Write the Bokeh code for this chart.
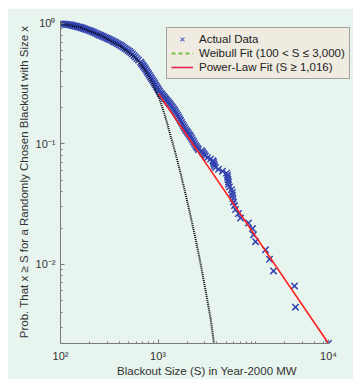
from bokeh.plotting import figure
from bokeh.models import FixedTicker, Legend, LegendItem, Range1d
from bokeh.embed import file_html
from bokeh.resources import INLINE

# ---------------- data ----------------
# Actual data: complementary cumulative distribution of blackout sizes
data_size_mw = [
    100, 107.3, 115.2, 123.7, 132.8, 142.5, 153.0, 164.2, 176.3, 189.2,
    203.1, 218.0, 234.0, 251.2, 269.7, 289.4, 310.7, 333.5, 358.0, 384.3,
    412.5, 442.8, 475.3, 510.2, 547.6, 587.7, 631.0,
    103.6, 111.2, 119.4, 128.1, 137.5, 147.7, 158.5, 170.1, 182.6, 196.0,
    210.4, 225.9, 242.4, 260.2, 279.4, 299.9, 321.9, 345.5, 370.9, 398.1,
    427.3, 458.7, 492.4, 528.6, 567.4, 609.0,
    661.6, 693.5, 727.1, 762.3, 799.0, 837.6, 878.2, 920.7, 965.1, 1012,
    1061, 1112, 1166, 1223, 1281, 1343, 1408, 1476, 1547, 1623,
    1701, 1784, 1870, 1960, 2055, 2154, 2258, 2368, 2482, 2602,
    677.3, 710.0, 744.5, 780.4, 818.1, 857.7, 899.3, 942.7, 988.3, 1036,
    1086, 1139, 1194, 1252, 1312, 1375, 1442, 1512, 1585, 1662,
    1742, 1826, 1915, 2007, 2104, 2206, 2312, 2424, 2542,
    2795, 2860, 2929, 2999, 3070, 3218, 3455, 3665, 3708, 3753,
    3797, 3888, 4173, 4586, 5042, 5163, 5163, 5224, 5286, 5286,
    5412, 5673, 5808, 5808, 5877, 5947, 6089, 6234, 6693, 7018,
    8475, 9316, 9539, 10000, 12670, 13920, 15300, 25120, 25720, 56070,
]
data_prob = [
    1.000, 0.9915, 0.983, 0.975, 0.963, 0.949, 0.936, 0.921, 0.903, 0.885,
    0.868, 0.846, 0.824, 0.803, 0.783, 0.763, 0.744, 0.724, 0.702, 0.680,
    0.659, 0.633, 0.609, 0.585, 0.556, 0.525, 0.496,
    0.9957, 0.9873, 0.9789, 0.9697, 0.9560, 0.9425, 0.9292, 0.9118, 0.8938, 0.8762,
    0.8565, 0.8349, 0.8138, 0.7933, 0.7732, 0.7537, 0.7345, 0.7127, 0.6907, 0.6694,
    0.6460, 0.6209, 0.5966, 0.5717, 0.5401, 0.5103,
    0.4775, 0.4529, 0.4295, 0.4058, 0.3818, 0.3593, 0.3382, 0.3183, 0.2996, 0.2819,
    0.2653, 0.2535, 0.2423, 0.2315, 0.2212, 0.2114, 0.2005, 0.1901, 0.1790, 0.1671,
    0.1561, 0.1458, 0.1362, 0.1282, 0.1216, 0.1152, 0.1076, 0.1006, 0.0946, 0.0898,
    0.4650, 0.4410, 0.4182, 0.3936, 0.3704, 0.3486, 0.3281, 0.3088, 0.2906, 0.2735,
    0.2594, 0.2479, 0.2368, 0.2263, 0.2163, 0.2059, 0.1952, 0.1851, 0.1729, 0.1615,
    0.1509, 0.1409, 0.1316, 0.1248, 0.1184, 0.1114, 0.1041, 0.0972, 0.0922,
    0.0878, 0.0856, 0.0834, 0.0813, 0.0791, 0.0769, 0.0747, 0.0725, 0.0703, 0.0681,
    0.0659, 0.0637, 0.0615, 0.0593, 0.0571, 0.0549, 0.0527, 0.0505, 0.0483, 0.0461,
    0.0439, 0.0417, 0.0395, 0.0373, 0.0351, 0.0329, 0.0307, 0.0285, 0.0264, 0.0242,
    0.0220, 0.0198, 0.0176, 0.0154, 0.0132, 0.0110, 0.0088, 0.0066, 0.0044, 0.0022,
]

# Weibull fit (drawn as black dotted curve)
weibull_size = [100, 160.3, 257.0, 412.1, 587.7, 710.0, 837.6, 942.7, 1061, 1194,
                1343, 1512, 1701, 1915, 2154, 2424, 2729, 3070, 3455, 3753, 3981]
weibull_prob = [1.0, 0.927, 0.797, 0.647, 0.515, 0.426, 0.3397, 0.2809, 0.2238, 0.1652,
                0.1175, 0.0835, 0.0572, 0.0384, 0.0253, 0.01637, 0.01019, 0.00611, 0.00359, 0.0022, 0.00162]

# Power-law fit (S >= 1,016)
powerlaw_size = [1016, 56070]
powerlaw_prob = [0.2603, 0.002196]

# axes
x_axis_extent = [100, 56100]          # drawn part of the x axis
x_view = [100, 101180]                # plotting area (legend overhangs the axis end)
y_view = [0.002196, 1.0585]
x_major_ticks = [100, 1000, 56070]
x_major_labels = ["10\u00b2", "10\u00b3", "10\u2074"]
x_minor_ticks = [200, 300, 400, 500, 600, 700, 800, 900,
                 2000, 3000, 4000, 5000, 6000, 7000, 8000, 9000,
                 10000, 20000, 30000, 40000, 50000]
y_major_ticks = [1, 0.1, 0.01]
y_major_labels = ["10\u2070", "10\u207b\u00b9", "10\u207b\u00b2"]
y_minor_ticks = [0.9, 0.8, 0.7, 0.6, 0.5, 0.4, 0.3, 0.2,
                 0.09, 0.08, 0.07, 0.06, 0.05, 0.04, 0.03, 0.02,
                 0.009, 0.008, 0.007, 0.006, 0.005, 0.004, 0.003]

legend_labels = ["Actual Data", "Weibull Fit (100 < S \u2264 3,000)", "Power-Law Fit (S \u2265 1,016)"]
x_label = "Blackout Size (S) in Year-2000 MW"
y_label = "Prob. That x \u2265 S for a Randomly Chosen Blackout with Size x"

# ---------------- styling ----------------
BG = "#e8f4ee"
FONT = "Liberation Sans"
NAN = float("nan")

p = figure(width=346, height=371, x_axis_type="log", y_axis_type="log",
           x_range=Range1d(x_view[0], x_view[1]),
           y_range=Range1d(y_view[0], y_view[1]),
           output_backend="svg", toolbar_location=None,
           min_border_left=53, min_border_right=0, min_border_top=12, min_border_bottom=33,
           background_fill_color=BG, border_fill_color=BG, outline_line_color=None)
p.margin = (8, 0, 0, 7)
p.xgrid.visible = False
p.ygrid.visible = False

p.xaxis.ticker = FixedTicker(ticks=x_major_ticks, minor_ticks=x_minor_ticks)
p.xaxis.major_label_overrides = dict(zip(x_major_ticks, x_major_labels))
p.xaxis.bounds = (x_axis_extent[0], x_axis_extent[1])
p.yaxis.ticker = FixedTicker(ticks=y_major_ticks, minor_ticks=y_minor_ticks)
p.yaxis.major_label_overrides = dict(zip(y_major_ticks, y_major_labels))
p.xaxis.axis_label = x_label
p.yaxis.axis_label = y_label

for ax in (p.xaxis[0], p.yaxis[0]):
    ax.axis_line_color = "#7a7a7a"
    ax.major_tick_line_color = "#7a7a7a"
    ax.minor_tick_line_color = "#7a7a7a"
    ax.major_tick_in = 4
    ax.major_tick_out = 0
    ax.minor_tick_in = 2
    ax.minor_tick_out = 0
    ax.major_label_text_font = FONT
    ax.major_label_text_font_size = "11px"
    ax.major_label_text_color = "#333333"
    ax.axis_label_text_font = FONT
    ax.axis_label_text_font_size = "11.5px"
    ax.axis_label_text_font_style = "normal"
    ax.axis_label_text_color = "#333333"

p.xaxis.major_label_standoff = 6
p.xaxis.axis_label_standoff = 0
p.yaxis.major_label_standoff = 5
p.yaxis.axis_label_standoff = 3

# data markers
p.scatter(data_size_mw, data_prob, marker="x", size=9,
          line_color="#3243b0", line_width=1.5)
# fits
p.line(weibull_size, weibull_prob, line_color="#000000", line_width=2, line_dash="1 1")
p.line(powerlaw_size, powerlaw_prob, line_color="#ff1f1f", line_width=1.6)

# legend glyphs (styled like the legend in the reference; not drawn in the plot area)
leg_data = p.scatter(x=[NAN], y=[NAN], marker="x", size=8, line_color="#5363c8", line_width=1.1)
leg_weib = p.line(x=[NAN, NAN], y=[NAN, NAN], line_color="#7cc242", line_width=2, line_dash="4 3")
leg_pl = p.line(x=[NAN, NAN], y=[NAN, NAN], line_color="#e3245c", line_width=1.6)

legend = Legend(items=[LegendItem(label=legend_labels[0], renderers=[leg_data]),
                       LegendItem(label=legend_labels[1], renderers=[leg_weib]),
                       LegendItem(label=legend_labels[2], renderers=[leg_pl])],
                location=(106, 264), orientation="vertical",
                background_fill_color="#efebe0", background_fill_alpha=1.0,
                border_line_color="#555555", border_line_width=1,
                label_text_font=FONT, label_text_font_size="11.5px",
                label_text_color="#222222",
                glyph_width=22, glyph_height=14, label_height=14,
                label_standoff=6, padding=4, spacing=0, margin=0)
p.add_layout(legend)

open("out.html", "w").write(file_html(p, INLINE))
